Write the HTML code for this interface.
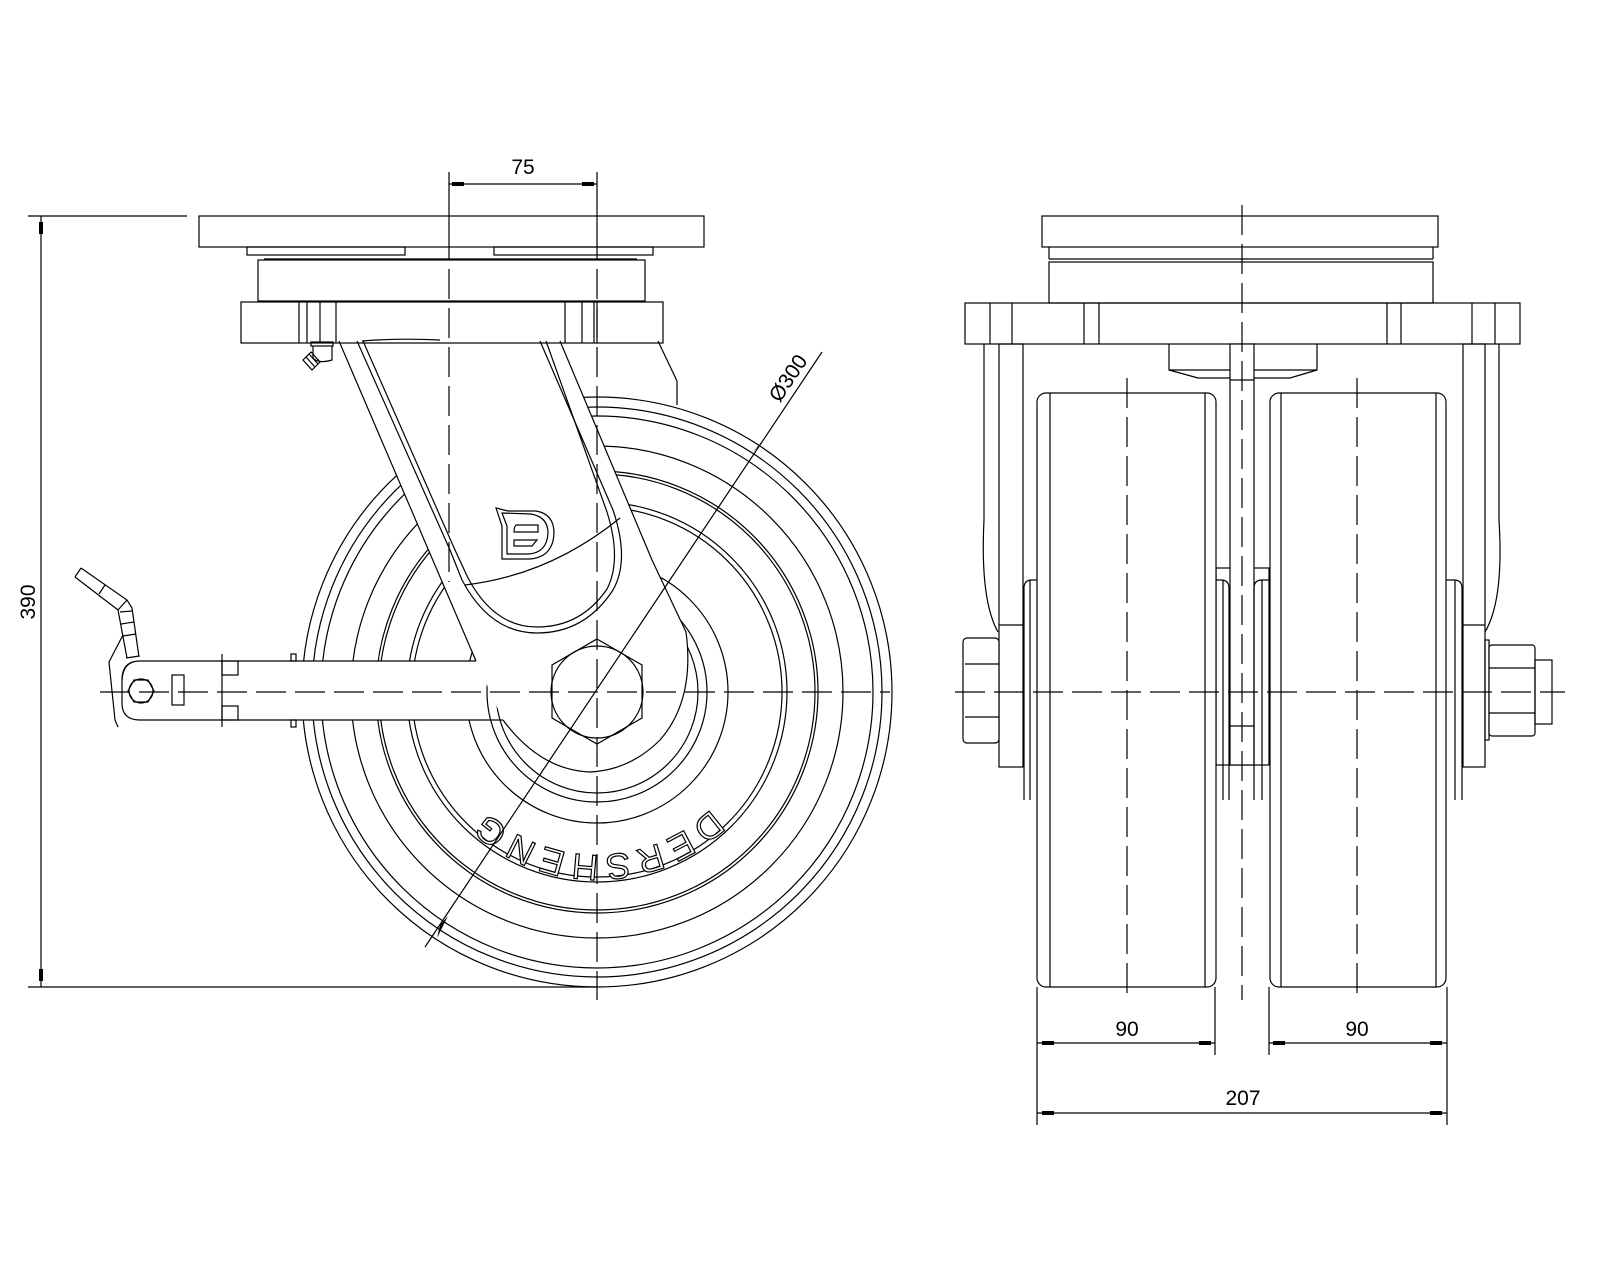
<!DOCTYPE html>
<html><head><meta charset="utf-8"><style>
html,body{margin:0;padding:0;background:#fff;}
svg{display:block;}
text{font-family:"Liberation Sans",sans-serif;}
</style></head><body>
<svg width="1600" height="1280" viewBox="0 0 1600 1280" xmlns="http://www.w3.org/2000/svg">
<g fill="none" stroke="#000" stroke-width="1.2">

<!-- ================= LEFT VIEW ================= -->
<g>
<circle cx="597" cy="692" r="295"/>
<circle cx="597" cy="692" r="285"/>
<circle cx="597" cy="692" r="276"/>
<circle cx="597" cy="692" r="246"/>
<circle cx="597" cy="692" r="221"/>
<circle cx="597" cy="692" r="218"/>
<circle cx="597" cy="692" r="190"/>
<circle cx="597" cy="692" r="185"/>
<circle cx="597" cy="692" r="131"/>
<circle cx="597" cy="692" r="110"/>
<circle cx="597" cy="692" r="101"/>
</g>
<path id="arcTxt2" d="M760,692 A163,163 0 0 1 434,692" stroke="none"/>
<text font-size="36" fill="#fff" stroke="#000" stroke-width="1.2" letter-spacing="6"><textPath href="#arcTxt2" startOffset="50%" text-anchor="middle">DERSHENG</textPath></text>

<path d="M339,341 L560,341 L652,560 L686,632 Q695,700 660,740 Q630,770 590,772 Q540,770 503,720 L476,661 Z" fill="#fff" stroke="none"/>
<rect x="122" y="661" width="360" height="59" fill="#fff" stroke="none"/>

<path d="M339,341 L476,661"/>
<path d="M560,341 L652,560 L686,632 Q695,700 660,740 Q630,770 590,772 Q540,770 503,720"/>
<path d="M357,341 L450,550 L462,580 Q490,633 537,633 Q585,633 613,590 Q630,560 613,510 L540,341"/>
<path d="M363,341 L455,550 L468,578 Q494,627 537,627 Q581,627 607,589 Q622,560 607,512 L546,341"/>
<path d="M465,585 Q550,575 620,518"/>
<path d="M362,341 Q400,338 440,340"/>
<path d="M658,341 L677,381 L677,405"/>
<path d="M496,508 L508,511 L536,511 Q554,514 554,533 Q553,557 530,559 L502,559 L502,526 Z"/>
<path d="M502,513 L531,514 Q548,517 548,533 Q547,553 528,554 L507,554 L507,526 Z"/>
<path d="M516,525 L538,525 L538,532 L514,532 Q514,527 516,525 Z"/>
<path d="M514,540 L537,540 L532,546 L514,546 Z"/>

<polygon points="597,639 642,665 642,718 597,744 552,718 552,665" fill="#fff"/>
<circle cx="597" cy="692" r="46"/>

<rect x="199" y="216" width="505" height="31" fill="#fff"/>
<rect x="247" y="247" width="158" height="8"/>
<rect x="494" y="247" width="159" height="8"/>
<line x1="264" y1="259" x2="637" y2="259"/>
<rect x="258" y="260" width="387" height="41"/>
<rect x="241" y="302" width="422" height="41"/>
<line x1="299" y1="302" x2="299" y2="343"/><line x1="307" y1="302" x2="307" y2="343"/>
<line x1="320" y1="302" x2="320" y2="343"/><line x1="336" y1="302" x2="336" y2="343"/>
<line x1="565" y1="302" x2="565" y2="343"/><line x1="582" y1="302" x2="582" y2="343"/>
<line x1="594" y1="302" x2="594" y2="343"/><line x1="597" y1="302" x2="597" y2="343"/>
<rect x="311" y="342" width="22" height="4"/>
<path d="M313,346 L313,358 Q318,364 332,360 L332,346"/>
<path d="M303,360 L311,352 L320,362 L312,370 Z"/>
<line x1="306" y1="357" x2="315" y2="367"/><line x1="309" y1="354" x2="318" y2="364"/>

<path d="M476,661 L140,661 Q122,661 122,680 L122,703 Q122,720 140,720 L503,720"/>
<line x1="222" y1="654" x2="222" y2="727"/>
<rect x="222" y="661" width="16" height="14"/>
<rect x="222" y="706" width="16" height="14"/>
<rect x="172" y="675" width="12" height="30"/>
<rect x="291" y="654" width="5" height="7"/>
<rect x="291" y="720" width="5" height="7"/>
<polygon points="128,691 134,680 148,680 154,691 148,702 134,702"/>
<circle cx="141" cy="691" r="12"/>
<path d="M81,568 L127,600 L132,608 L139,657"/>
<path d="M75,577 L118,610 L127,658"/>
<line x1="81" y1="568" x2="75" y2="577"/>
<line x1="105" y1="585" x2="99" y2="594"/>
<line x1="127" y1="600" x2="118" y2="610"/>
<line x1="120" y1="612" x2="132" y2="611"/>
<line x1="121" y1="624" x2="134" y2="622"/>
<line x1="123" y1="636" x2="136" y2="634"/>
<line x1="126" y1="658" x2="139" y2="656"/>
<path d="M123,635 L109,662 L115,720 L118,727"/>
<path d="M133,662 Q123,665 122,680"/>

<g stroke-dasharray="30 9">
<line x1="100" y1="692" x2="890" y2="692"/>
<line x1="449" y1="230" x2="449" y2="582"/>
<line x1="597" y1="230" x2="597" y2="1000"/>
</g>
<line x1="449" y1="172" x2="449" y2="230"/>
<line x1="597" y1="172" x2="597" y2="230"/>

<line x1="449" y1="184" x2="597" y2="184"/>
<line x1="28" y1="216" x2="187" y2="216"/>
<line x1="28" y1="987" x2="597" y2="987"/>
<line x1="41" y1="216" x2="41" y2="987"/>
<line x1="425" y1="947" x2="822" y2="352"/>
</g>

<g fill="#000">
<rect x="452" y="182" width="12" height="4"/>
<rect x="582" y="182" width="12" height="4"/>
<rect x="39" y="222" width="4" height="12"/>
<rect x="39" y="969" width="4" height="12"/>
<polygon points="440,925 448,916 437,938" />
<polygon points="761,444 752,453 765,438"/>
<rect x="1042" y="1041" width="12" height="4"/>
<rect x="1199" y="1041" width="12" height="4"/>
<rect x="1273" y="1041" width="12" height="4"/>
<rect x="1430" y="1041" width="12" height="4"/>
<rect x="1042" y="1111" width="12" height="4"/>
<rect x="1430" y="1111" width="12" height="4"/>
</g>

<g font-size="21" fill="#000">
<text x="523" y="174" text-anchor="middle">75</text>
<text x="0" y="0" text-anchor="middle" transform="translate(35,602) rotate(-90)">390</text>
<text x="0" y="0" text-anchor="middle" transform="translate(794,382) rotate(-56.3)">Ø300</text>
<text x="1127" y="1036" text-anchor="middle">90</text>
<text x="1357" y="1036" text-anchor="middle">90</text>
<text x="1243" y="1105" text-anchor="middle">207</text>
</g>

<!-- ================= RIGHT VIEW ================= -->
<g fill="none" stroke="#000" stroke-width="1.2">
<rect x="1042" y="216" width="396" height="31"/>
<line x1="1049" y1="247" x2="1049" y2="259"/><line x1="1433" y1="247" x2="1433" y2="259"/>
<line x1="1049" y1="259" x2="1433" y2="259"/>
<rect x="1049" y="262" width="384" height="41"/>
<rect x="965" y="303" width="555" height="41"/>
<line x1="990" y1="303" x2="990" y2="344"/><line x1="1012" y1="303" x2="1012" y2="344"/>
<line x1="1084" y1="303" x2="1084" y2="344"/><line x1="1099" y1="303" x2="1099" y2="344"/>
<line x1="1387" y1="303" x2="1387" y2="344"/><line x1="1401" y1="303" x2="1401" y2="344"/>
<line x1="1472" y1="303" x2="1472" y2="344"/><line x1="1495" y1="303" x2="1495" y2="344"/>
<path d="M984,344 L984,520 Q980,600 998,632"/>
<rect x="999" y="344" width="24" height="423"/>
<line x1="999" y1="625" x2="1023" y2="625"/>
<rect x="1463" y="344" width="22" height="423"/>
<line x1="1463" y1="625" x2="1485" y2="625"/>
<path d="M1499,344 L1499,520 Q1504,600 1485,632"/>
<path d="M1169,344 L1169,370 L1198,378 L1290,378 L1317,370 L1317,344"/>
<line x1="1169" y1="370" x2="1317" y2="370"/>
<rect x="1216" y="568" width="53" height="197"/>
<rect x="1230" y="344" width="24" height="421" fill="#fff"/>
<line x1="1230" y1="380" x2="1254" y2="380"/>
<line x1="1230" y1="726" x2="1254" y2="726"/>
<path d="M1024,800 L1024,588 Q1024,580 1032,580 L1037,580"/>
<path d="M1229,800 L1229,588 Q1229,580 1221,580 L1216,580"/>
<path d="M1254,800 L1254,588 Q1254,580 1262,580 L1270,580"/>
<path d="M1462,800 L1462,588 Q1462,580 1454,580 L1446,580"/>
<line x1="1030" y1="580" x2="1030" y2="800"/>
<line x1="1223" y1="580" x2="1223" y2="800"/>
<line x1="1262" y1="580" x2="1262" y2="800"/>
<line x1="1455" y1="580" x2="1455" y2="800"/>
<rect x="1037" y="393" width="179" height="594" rx="9" fill="#fff"/>
<line x1="1050" y1="393" x2="1050" y2="987"/><line x1="1205" y1="393" x2="1205" y2="987"/>
<rect x="1270" y="393" width="176" height="594" rx="9" fill="#fff"/>
<line x1="1281" y1="393" x2="1281" y2="987"/><line x1="1436" y1="393" x2="1436" y2="987"/>
<rect x="963" y="638" width="36" height="105" rx="4" fill="#fff"/>
<line x1="965" y1="664" x2="999" y2="664"/><line x1="965" y1="717" x2="999" y2="717"/>
<rect x="1485" y="640" width="4" height="100"/>
<rect x="1489" y="645" width="46" height="91" rx="3" fill="#fff"/>
<line x1="1489" y1="668" x2="1535" y2="668"/><line x1="1489" y1="713" x2="1535" y2="713"/>
<rect x="1535" y="660" width="17" height="64"/>
<g stroke-dasharray="30 9">
<line x1="955" y1="692" x2="1565" y2="692"/>
<line x1="1242" y1="205" x2="1242" y2="1000"/>
<line x1="1127" y1="378" x2="1127" y2="998"/>
<line x1="1357" y1="378" x2="1357" y2="998"/>
</g>
<line x1="1037" y1="987" x2="1037" y2="1125"/>
<line x1="1215" y1="987" x2="1215" y2="1055"/>
<line x1="1269" y1="987" x2="1269" y2="1055"/>
<line x1="1447" y1="987" x2="1447" y2="1125"/>
<line x1="1037" y1="1043" x2="1215" y2="1043"/>
<line x1="1269" y1="1043" x2="1447" y2="1043"/>
<line x1="1037" y1="1113" x2="1447" y2="1113"/>
</g>
</svg>
</body></html>
